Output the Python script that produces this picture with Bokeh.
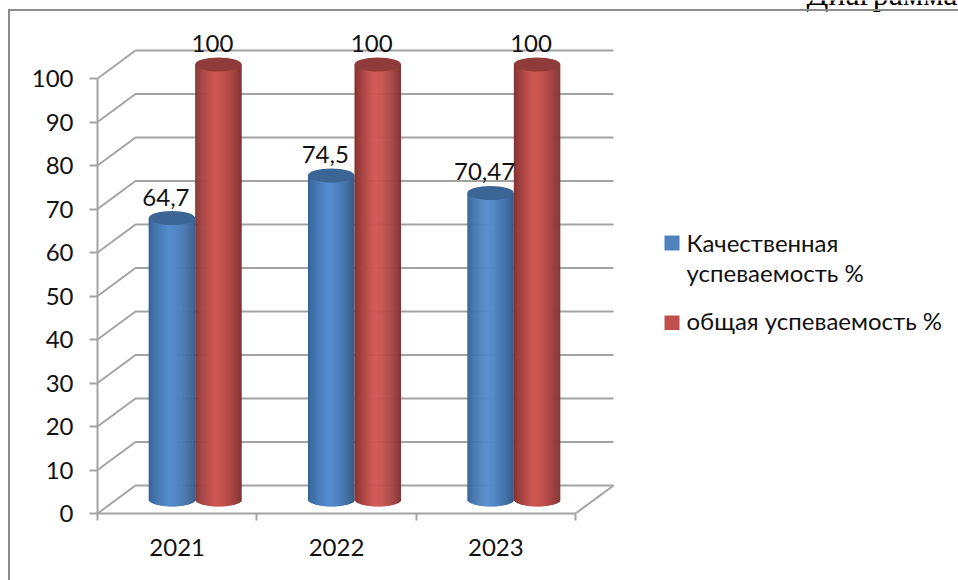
import math
from bokeh.plotting import figure
from bokeh.models import (Range1d, FixedTicker, Label, ColumnDataSource)
from bokeh.core.properties import value
from bokeh.embed import file_html
from bokeh.resources import INLINE

years = ["2021", "2022", "2023"]
quality_pct = [64.7, 74.5, 70.47]
overall_pct = [100, 100, 100]
quality_labels = ["64,7", "74,5", "70,47"]
overall_labels = ["100", "100", "100"]
y_ticks = [0, 10, 20, 30, 40, 50, 60, 70, 80, 90, 100]
series_names = ["Качественная", "успеваемость %", "общая успеваемость %"]
page_title = "Диаграмма"

FONT = "Lato"
W, H = 958, 580
AX_L, AX_B = 97, 513          # pixel position of the axes origin
PX_X, PX_Y = 159.33, 4.35     # pixels per category / per percent
DX, DY = 38 / PX_X, 28 / PX_Y # depth of the 3D box in data units
BAR_W = 46.5 / PX_X
RX, RY = BAR_W / 2, 7 / PX_Y
SHIFT = DX / 2 - 1 / PX_X
GRID = "#a3a3a3"


def px_x(v):
    return (v - AX_L) / PX_X


def px_y(v):
    return (AX_B - v) / PX_Y


frame_css = (":host::after{content:'';position:absolute;left:8px;top:9px;right:0;bottom:0;"
             "border-left:2px solid #8c8c8c;border-top:2px solid #8c8c8c;"
             "pointer-events:none;z-index:100}")

p = figure(width=W, height=H, output_backend="svg", toolbar_location=None,
           x_range=Range1d(0, (W - AX_L) / PX_X),
           y_range=Range1d(0, AX_B / PX_Y),
           min_border_left=AX_L, min_border_right=0, min_border_top=0,
           min_border_bottom=H - AX_B, outline_line_color=None,
           margin=(0, 0, 0, 0), stylesheets=[frame_css])
p.grid.visible = False

# axes
ya = p.yaxis[0]
ya.ticker = FixedTicker(ticks=y_ticks)
ya.bounds = (0, 100)
ya.axis_line_color = GRID
ya.axis_line_width = 2
ya.major_tick_line_color = GRID
ya.major_tick_line_width = 2
ya.major_tick_out = 8
ya.major_tick_in = 0
ya.minor_tick_out = 0
ya.minor_tick_in = 0
ya.major_label_standoff = 16
ya.major_label_text_font = FONT
ya.major_label_text_font_size = "24px"
ya.major_label_text_color = "#111111"

n = len(years)
xa = p.xaxis[0]
xa.ticker = FixedTicker(ticks=[i + 0.5 for i in range(n)], minor_ticks=list(range(n + 1)))
xa.major_label_overrides = {i + 0.5: y for i, y in enumerate(years)}
xa.bounds = (0, n)
xa.axis_line_color = GRID
xa.axis_line_width = 2
xa.major_tick_out = 0
xa.major_tick_in = 0
xa.minor_tick_line_color = GRID
xa.minor_tick_line_width = 2
xa.minor_tick_out = 7
xa.minor_tick_in = 0
xa.major_label_standoff = 18
xa.major_label_text_font = FONT
xa.major_label_text_font_size = "24px"
xa.major_label_text_color = "#111111"

# walls and floor
xs = [[0, DX, n + DX] for _ in y_ticks] + [[n, n + DX]]
ys = [[t, t + DY, t + DY] for t in y_ticks] + [[0, DY]]
p.multi_line(xs, ys, line_color=GRID, line_width=2)


def lerp(c1, c2, t):
    return tuple(a + (b - a) * t for a, b in zip(c1, c2))


def hex_(c):
    return "#%02x%02x%02x" % tuple(int(round(v)) for v in c)


def shade(edge_l, mid, edge_r, t):
    # t in 0..1 across the cylinder, brightest part a little left of the centre
    peak = 0.42
    if t < peak:
        return hex_(lerp(edge_l, mid, (t / peak) ** 0.7))
    return hex_(lerp(mid, edge_r, ((t - peak) / (1 - peak)) ** 1.6))


def cylinder(cx, val, edge_l, mid, edge_r, top):
    strips = 47
    l, r, b, tp, col = [], [], [], [], []
    base = DY / 2
    for k in range(strips):
        t0 = k / strips
        tc = (k + 0.5) / strips
        x0 = cx - RX + BAR_W * t0
        l.append(x0)
        r.append(x0 + BAR_W / strips * (1.6 if k < strips - 1 else 1))
        u = 2 * tc - 1
        b.append(base - RY * math.sqrt(max(0, 1 - u * u)))
        tp.append(val + base)
        col.append(shade(edge_l, mid, edge_r, tc))
    p.quad(left=l, right=r, bottom=b, top=tp, fill_color=col, line_color=None)
    p.ellipse([cx], [val + base], width=BAR_W, height=2 * RY, fill_color=top, line_color=None)


BLUE = ((0x35, 0x5f, 0x92), (0x55, 0x8c, 0xcd), (0x36, 0x5a, 0x88), "#3a6595")
RED = ((0x7c, 0x31, 0x2f), (0xcf, 0x56, 0x53), (0x80, 0x35, 0x33), "#8e3b39")

for i in range(n):
    cb = i + 0.5 + SHIFT - BAR_W / 2
    cr = i + 0.5 + SHIFT + BAR_W / 2
    cylinder(cb, quality_pct[i], *BLUE)
    cylinder(cr, overall_pct[i], *RED)

lab_src = ColumnDataSource(dict(
    x=[i + 0.5 + SHIFT - BAR_W / 2 for i in range(n)] + [i + 0.5 + SHIFT + BAR_W / 2 for i in range(n)],
    y=[v + DY / 2 for v in quality_pct] + [v + DY / 2 for v in overall_pct],
    t=quality_labels + overall_labels))
p.text("x", "y", text="t", source=lab_src, x_offset=-6, y_offset=-21, text_align="center",
       text_baseline="middle", text_font=value(FONT), text_font_size="24px", text_color="#111111")

# legend
p.quad(left=[px_x(664)], right=[px_x(679)], top=[px_y(235)], bottom=[px_y(250)],
       fill_color="#4f81bd", line_color=None)
p.quad(left=[px_x(664)], right=[px_x(679)], top=[px_y(315)], bottom=[px_y(329.5)],
       fill_color="#c0504d", line_color=None)
p.text([px_x(686)] * 3, [px_y(242), px_y(272), px_y(320)], text=series_names,
       text_baseline="alphabetic", text_font=value(FONT), text_font_size="24px",
       text_color="#111111")

# the text cut off at the page top
p.add_layout(Label(x=806, y=-7, x_units="canvas", y_units="canvas", text=page_title,
                   text_font="Liberation Serif", text_font_size="32px", text_color="#000000",
                   text_baseline="alphabetic"))

open("out.html", "w").write(file_html(p, INLINE))
